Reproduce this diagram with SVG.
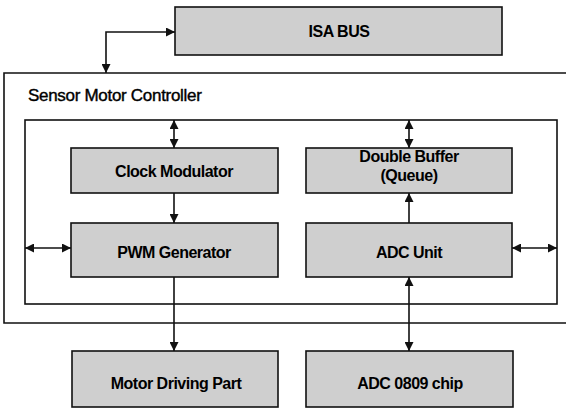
<svg xmlns="http://www.w3.org/2000/svg" width="566" height="408" viewBox="0 0 566 408">
<style>
.frame{fill:none;stroke:#111;stroke-width:1.6}
.node rect{fill:#cfcfcf;stroke:#111;stroke-width:1.6}
.node text{font-family:"Liberation Sans",Arial,sans-serif;font-weight:bold;font-size:16px;letter-spacing:-0.5px;fill:#000;text-anchor:middle}
.title{font-family:"Liberation Sans",Arial,sans-serif;font-size:17px;letter-spacing:-0.3px;fill:#000;stroke:#000;stroke-width:0.4}
#connectors path{fill:none;stroke:#111;stroke-width:1.6}
</style>
<defs>
<marker id="ah" viewBox="0 0 10 10" refX="10" refY="5" markerWidth="10" markerHeight="9" markerUnits="userSpaceOnUse" orient="auto-start-reverse">
<path d="M0,0 L10,5 L0,10 z" fill="#111"/>
</marker>
</defs>
<rect width="566" height="408" fill="#fff"/>
<g id="sensor-motor-controller">
<path class="frame" d="M567,73 H4 V323 H567"/>
<text class="title" x="28" y="101">Sensor Motor Controller</text>
</g>
<g id="inner-frame">
<rect class="frame" x="25" y="120" width="532" height="184"/>
</g>
<g id="isa-bus" class="node">
<rect x="175" y="7" width="327" height="48"/>
<text x="339" y="37">ISA BUS</text>
</g>
<g id="clock-modulator" class="node">
<rect x="71" y="148" width="207" height="45"/>
<text x="174" y="177">Clock Modulator</text>
</g>
<g id="double-buffer" class="node">
<rect x="306" y="148" width="206" height="45"/>
<text x="409" y="162">Double Buffer</text>
<text x="409" y="181">(Queue)</text>
</g>
<g id="pwm-generator" class="node">
<rect x="71" y="223" width="207" height="54"/>
<text x="174" y="258">PWM Generator</text>
</g>
<g id="adc-unit" class="node">
<rect x="306" y="223" width="206" height="54"/>
<text x="409" y="258">ADC Unit</text>
</g>
<g id="motor-driving-part" class="node">
<rect x="72" y="351" width="206" height="56"/>
<text x="176" y="389">Motor Driving Part</text>
</g>
<g id="adc-0809-chip" class="node">
<rect x="306" y="351" width="207" height="56"/>
<text x="410" y="389">ADC 0809 chip</text>
</g>
<g id="connectors">
<path d="M175,32 H106 V73" marker-start="url(#ah)" marker-end="url(#ah)"/>
<path d="M174,120 V148" marker-start="url(#ah)" marker-end="url(#ah)"/>
<path d="M409,120 V148" marker-start="url(#ah)" marker-end="url(#ah)"/>
<path d="M174,193 V223" marker-end="url(#ah)"/>
<path d="M409,223 V193" marker-end="url(#ah)"/>
<path d="M25,248 H71" marker-start="url(#ah)" marker-end="url(#ah)"/>
<path d="M512,248 H557" marker-start="url(#ah)" marker-end="url(#ah)"/>
<path d="M174,277 V351" marker-end="url(#ah)"/>
<path d="M409,277 V351" marker-start="url(#ah)" marker-end="url(#ah)"/>
</g>
</svg>
